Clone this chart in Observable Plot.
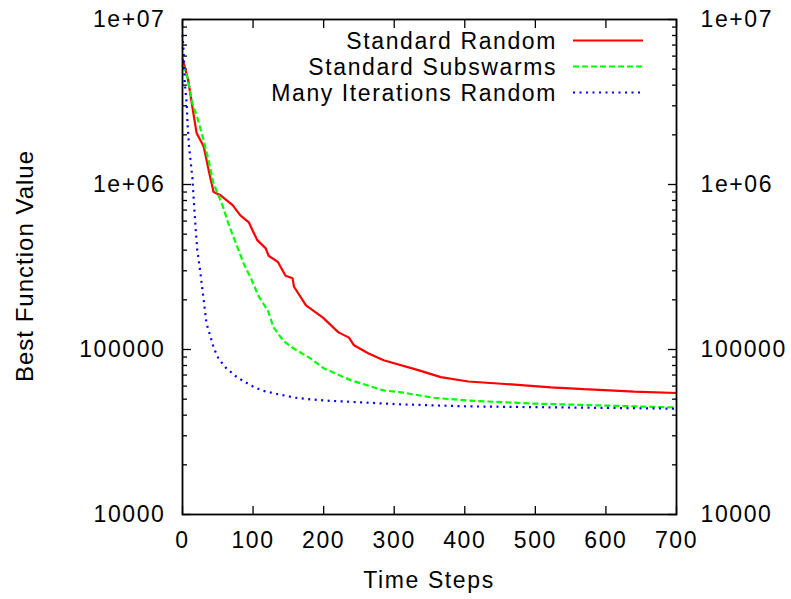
<!DOCTYPE html>
<html>
<head>
<meta charset="utf-8">
<script src="https://cdn.jsdelivr.net/npm/d3@7"></script>
<script src="https://cdn.jsdelivr.net/npm/@observablehq/plot@0.6"></script>
<style>
  html, body { margin: 0; padding: 0; background: #fff; }
  #chart svg text { letter-spacing: 1.6px; }
</style>
</head>
<body>
<div id="chart"></div>
<script>
// ---- data ----
const seriesNames = ["Standard Random", "Standard Subswarms", "Many Iterations Random"];
const seriesColors = ["#ff0000", "#00ff00", "#0000ff"];

const redT = [0, 8, 14, 20, 30, 38, 44, 54, 71, 82, 94, 99, 106, 118, 122, 135, 146, 156, 158, 175, 199, 221, 236, 243, 263, 285, 334, 366, 405, 452, 522, 569, 640, 700];
const redV = [5.8e6, 4.3e6, 2.95e6, 2.05e6, 1.7e6, 1.17e6, 9.0e5, 8.6e5, 7.5e5, 6.5e5, 5.9e5, 5.3e5, 4.6e5, 4.1e5, 3.7e5, 3.4e5, 2.8e5, 2.7e5, 2.4e5, 1.85e5, 1.56e5, 1.27e5, 1.18e5, 1.06e5, 9.5e4, 8.6e4, 7.5e4, 6.8e4, 6.4e4, 6.2e4, 5.9e4, 5.75e4, 5.55e4, 5.45e4];

const greenT = [0, 7, 14, 21, 30, 37, 44, 51, 57, 65, 78, 87, 97, 108, 121, 129, 143, 158, 182, 200, 239, 285, 310, 356, 405, 498, 594, 700];
const greenV = [5.3e6, 4.45e6, 3.1e6, 2.55e6, 1.85e6, 1.4e6, 1.01e6, 8.6e5, 7.4e5, 5.8e5, 4.15e5, 3.3e5, 2.7e5, 2.1e5, 1.72e5, 1.36e5, 1.13e5, 1.01e5, 8.8e4, 7.7e4, 6.5e4, 5.65e4, 5.5e4, 5.1e4, 4.9e4, 4.7e4, 4.58e4, 4.45e4];

const blueT = [0, 1.5, 3, 6, 7, 9, 14, 16, 18.5, 21, 25.5, 27, 30, 34, 40, 44, 51, 62, 77, 97, 112, 136, 160, 183, 204, 310, 405, 547, 700];
const blueV = [8.1e6, 6.5e6, 4.2e6, 3.05e6, 2.4e6, 1.75e6, 1.1e6, 8.0e5, 5.5e5, 4.0e5, 2.9e5, 2.55e5, 2.0e5, 1.44e5, 1.18e5, 1.03e5, 8.8e4, 7.7e4, 6.8e4, 6.05e4, 5.65e4, 5.35e4, 5.1e4, 4.98e4, 4.9e4, 4.65e4, 4.52e4, 4.45e4, 4.38e4];

const xTicks = [0, 100, 200, 300, 400, 500, 600, 700];
const yTicks = [1e4, 1e5, 1e6, 1e7];
const yTickLabels = ["10000", "100000", "1e+06", "1e+07"];
const yMinorTicks = [1e4, 1e5, 1e6].flatMap(b => [2, 3, 4, 5, 6, 7, 8, 9].map(m => m * b));
const xLabel = "Time Steps";
const yLabel = "Best Function Value";

// ---- build table ----
const rows = [];
[[redT, redV], [greenT, greenV], [blueT, blueV]].forEach(([ts, vs], i) => {
  ts.forEach((t, j) => rows.push({series: seriesNames[i], t, v: vs[j]}));
});
const dashes = [null, "6,3", "2,4.5"];
const yFmt = d => yTickLabels[yTicks.indexOf(d)] ?? "";
const blank = () => "";

const marks = [];
// inward ticks (gnuplot style)
marks.push(Plot.axisX({anchor: "bottom", ticks: xTicks, tickSize: 8, dy: -8, tickFormat: blank, label: null, strokeWidth: 1.3}));
marks.push(Plot.axisX({anchor: "top", ticks: xTicks, tickSize: 8, dy: 8, tickFormat: blank, label: null, strokeWidth: 1.3}));
marks.push(Plot.axisY({anchor: "left", ticks: yTicks, tickSize: 9, dx: 9, tickFormat: blank, label: null, strokeWidth: 1.3}));
marks.push(Plot.axisY({anchor: "right", ticks: yTicks, tickSize: 9, dx: -9, tickFormat: blank, label: null, strokeWidth: 1.3}));
marks.push(Plot.axisY({anchor: "left", ticks: yMinorTicks, tickSize: 5, dx: 5, tickFormat: blank, label: null, strokeWidth: 1.3}));
marks.push(Plot.axisY({anchor: "right", ticks: yMinorTicks, tickSize: 5, dx: -5, tickFormat: blank, label: null, strokeWidth: 1.3}));
// tick labels
marks.push(Plot.axisX({anchor: "bottom", ticks: xTicks, tickSize: 0, tickPadding: 17, tickFormat: d => String(d), label: null}));
marks.push(Plot.axisY({anchor: "left", ticks: yTicks, tickSize: 0, tickPadding: 17, tickFormat: yFmt, label: null}));
marks.push(Plot.axisY({anchor: "right", ticks: yTicks, tickSize: 0, tickPadding: 24, tickFormat: yFmt, label: null}));
// series lines
seriesNames.forEach((name, i) => {
  marks.push(Plot.line(rows.filter(r => r.series === name), {
    x: "t", y: "v", stroke: seriesColors[i], strokeWidth: 2.2,
    strokeDasharray: dashes[i], strokeLinejoin: "miter", strokeLinecap: "butt"
  }));
});
marks.push(Plot.frame({stroke: "#000", strokeWidth: 1.8}));

const chart = Plot.plot({
  width: 791,
  height: 599,
  marginLeft: 182,
  marginRight: 115,
  marginTop: 19,
  marginBottom: 85,
  style: {fontSize: "23px", fontFamily: "'Liberation Sans', Arial, Helvetica, sans-serif", color: "#000", background: "#fff"},
  x: {domain: [0, 700]},
  y: {type: "log", domain: [1e4, 1e7]},
  marks
});
document.getElementById("chart").appendChild(chart);

// axis titles and legend (inside the SVG)
const svg = d3.select(chart);
svg.append("text")
  .attr("x", 429).attr("y", 588)
  .attr("text-anchor", "middle")
  .attr("fill", "#000")
  .text(xLabel);
svg.append("text")
  .attr("transform", "translate(33,266) rotate(-90)")
  .attr("text-anchor", "middle")
  .attr("fill", "#000")
  .style("font-size", "24px")
  .style("letter-spacing", "1px")
  .text(yLabel);

const lg = svg.append("g");
seriesNames.forEach((name, i) => {
  const yy = 40.5 + i * 26;
  lg.append("text")
    .attr("x", 557).attr("y", yy)
    .attr("dy", "0.35em")
    .attr("text-anchor", "end")
    .attr("fill", "#000")
    .text(name);
  lg.append("line")
    .attr("x1", 573).attr("x2", 643)
    .attr("y1", yy).attr("y2", yy)
    .attr("stroke", seriesColors[i])
    .attr("stroke-width", 2.2)
    .attr("stroke-dasharray", dashes[i]);
});
</script>
</body>
</html>
